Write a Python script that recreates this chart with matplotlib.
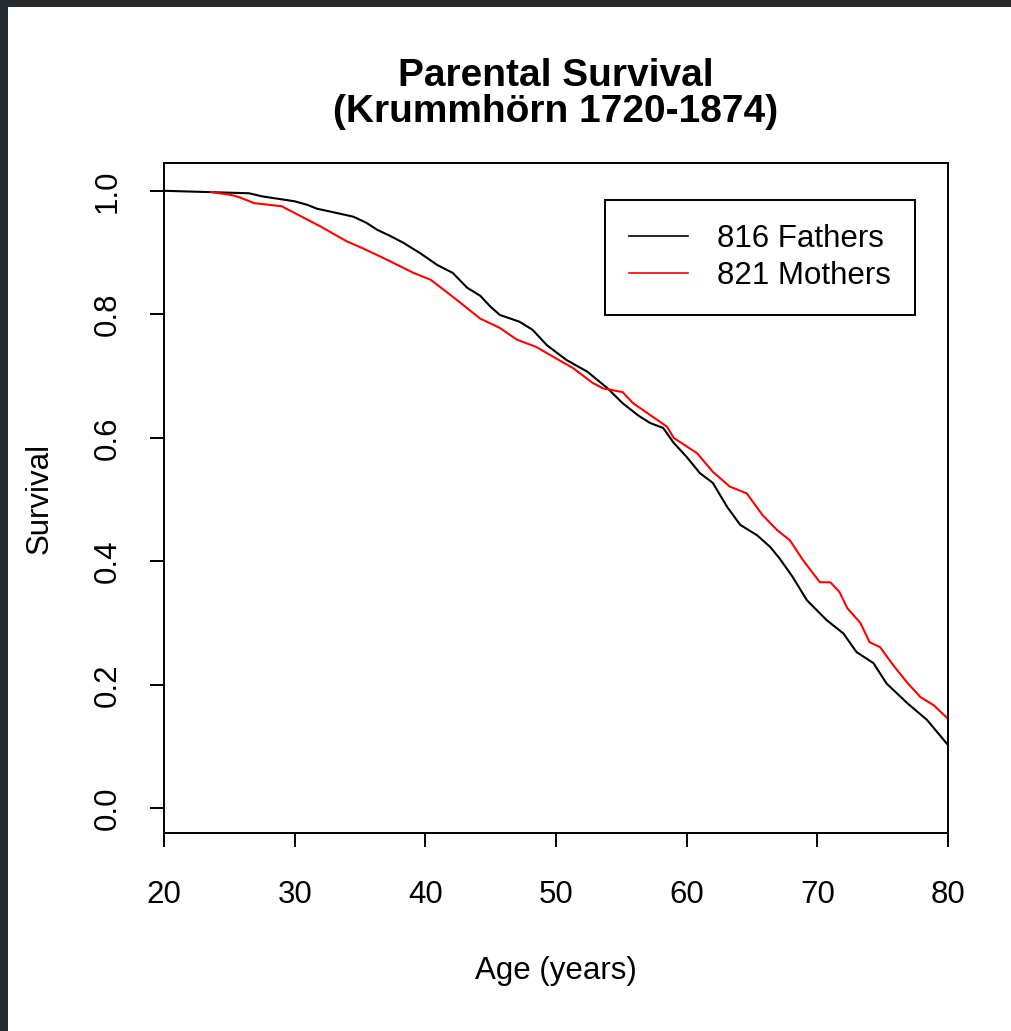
import matplotlib
matplotlib.use("Agg")
import matplotlib.pyplot as plt
from matplotlib.patches import Rectangle

# ---- data ----
father_age = [20.0, 26.5, 27.5, 30.0, 31.0, 31.7, 32.8, 34.5, 35.5, 36.3, 37.3, 38.3,
              39.6, 40.9, 42.1, 43.2, 44.2, 45.0, 45.7, 47.2, 48.2, 49.3, 50.8, 52.4,
              53.9, 55.1, 56.3, 57.2, 58.2, 59.0, 60.0, 61.0, 62.0, 63.1, 64.1, 65.4,
              66.4, 67.1, 68.1, 69.2, 70.7, 72.0, 73.0, 74.3, 75.3, 76.9, 78.4, 79.9, 80.0]
father_surv = [1.000, 0.996, 0.991, 0.983, 0.977, 0.971, 0.966, 0.958, 0.948, 0.937, 0.927, 0.916,
               0.899, 0.880, 0.867, 0.843, 0.830, 0.812, 0.799, 0.788, 0.775, 0.750, 0.726, 0.707,
               0.681, 0.656, 0.636, 0.624, 0.616, 0.592, 0.569, 0.543, 0.527, 0.488, 0.459, 0.442,
               0.423, 0.405, 0.375, 0.337, 0.305, 0.283, 0.253, 0.235, 0.202, 0.170, 0.143, 0.105, 0.103]

mother_age = [23.6, 25.2, 25.7, 26.9, 29.0, 30.0, 31.0, 32.0, 33.0, 34.0, 35.2, 37.1,
              39.1, 40.4, 41.7, 42.9, 44.2, 45.7, 47.0, 48.5, 49.8, 51.3, 52.8, 53.6,
              55.1, 55.9, 57.2, 58.5, 59.0, 60.8, 62.0, 63.3, 64.6, 65.8, 66.9, 67.9,
              68.9, 70.2, 71.0, 71.7, 72.3, 73.3, 74.0, 74.8, 75.8, 76.9, 77.9, 78.9, 80.0]
mother_surv = [0.998, 0.993, 0.990, 0.980, 0.975, 0.964, 0.953, 0.942, 0.930, 0.918, 0.907, 0.888,
               0.867, 0.856, 0.835, 0.815, 0.793, 0.778, 0.759, 0.747, 0.731, 0.713, 0.689, 0.680,
               0.674, 0.656, 0.637, 0.618, 0.600, 0.575, 0.545, 0.521, 0.510, 0.475, 0.451, 0.434,
               0.402, 0.366, 0.366, 0.350, 0.324, 0.300, 0.269, 0.261, 0.232, 0.203, 0.180, 0.167, 0.145]

series_labels = ["816 Fathers", "821 Mothers"]
x_ticks = [20, 30, 40, 50, 60, 70, 80]
y_ticks = [0.0, 0.2, 0.4, 0.6, 0.8, 1.0]
y_tick_labels = ["0.0", "0.2", "0.4", "0.6", "0.8", "1.0"]
title_line1 = "Parental Survival"
title_line2 = "(Krummhörn 1720-1874)"

# ---- figure ----
W, H = 1011, 1031
plt.rcParams['font.family'] = ['Liberation Sans', 'DejaVu Sans']
fig = plt.figure(figsize=(W / 100, H / 100), dpi=100)
fig.patch.set_facecolor('white')

# dark screenshot border (top and left)
dark = '#262b30'
fig.patches.append(Rectangle((0, 1 - 7 / H), 1, 7 / H, transform=fig.transFigure,
                             facecolor=dark, edgecolor='none', zorder=0))
fig.patches.append(Rectangle((0, 0), 8 / W, 1, transform=fig.transFigure,
                             facecolor=dark, edgecolor='none', zorder=0))

L, R, T, B = 164, 948, 163, 833
ax = fig.add_axes([L / W, 1 - B / H, (R - L) / W, (B - T) / H])

ax.plot(father_age, father_surv, color='black', lw=1.5, label=series_labels[0])
ax.plot(mother_age, mother_surv, color='#ff0000', lw=1.5, label=series_labels[1])

ax.set_xlim(20, 80)
ax.set_ylim(-0.04, 1.045)
ax.set_xticks(x_ticks)
ax.set_yticks(y_ticks)
ax.set_yticklabels(y_tick_labels, rotation=90, va='center')

for s in ax.spines.values():
    s.set_linewidth(1.4)
ax.tick_params(axis='both', length=10, width=1.4, labelsize=22.5, colors='black')
ax.tick_params(axis='x', pad=24)
ax.tick_params(axis='y', pad=20)

ax.set_xlabel("Age (years)", fontsize=22.5, labelpad=33)
ax.set_ylabel("Survival", fontsize=22.5, labelpad=27.5)

fig.text(0.5 * (L + R) / W, 1 - 86 / H, title_line1, ha='center', va='baseline',
         fontsize=28, fontweight='bold')
fig.text(0.5 * (L + R) / W, 1 - 122 / H, title_line2, ha='center', va='baseline',
         fontsize=28, fontweight='bold')

leg = ax.legend(loc='upper left', bbox_to_anchor=(605 / W, 1 - 200 / H),
                bbox_transform=fig.transFigure, borderaxespad=0, fontsize=22.5,
                frameon=True, fancybox=False, framealpha=1, edgecolor='black',
                handlelength=1.9, handletextpad=0.9, labelspacing=0.215,
                borderpad=0.77)
leg.get_frame().set_linewidth(1.4)
for line in leg.get_lines():
    line.set_linewidth(1.2)

fig.savefig("out.png", dpi=100)
